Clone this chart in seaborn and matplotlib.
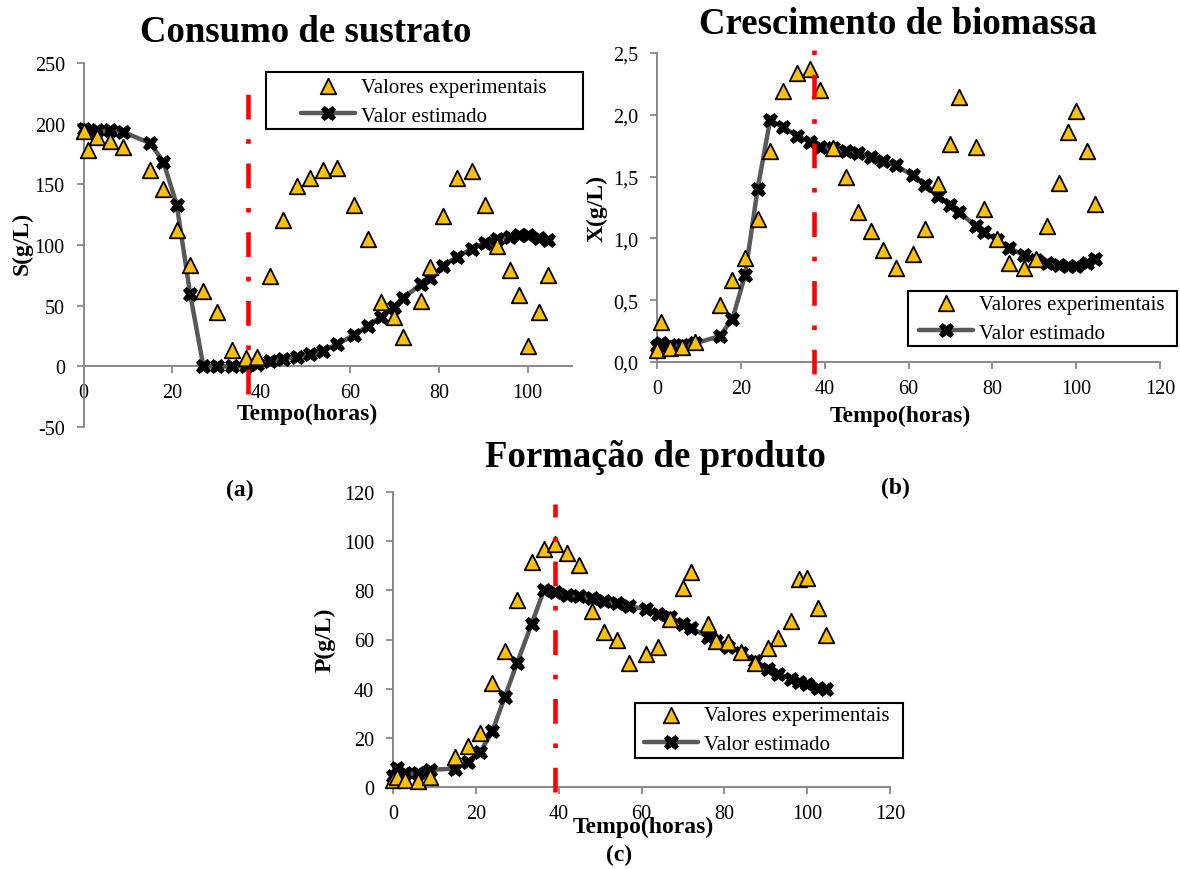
import matplotlib
matplotlib.use("Agg")
import matplotlib.pyplot as plt
import seaborn as sns
import pandas as pd
from matplotlib.patches import Rectangle
from matplotlib.ticker import FuncFormatter

# ---------------- data ----------------
time_h = [0, 1, 3, 6, 9, 15, 18, 21, 24, 27, 30, 33.5, 36.5, 39, 42, 45, 48, 51, 54, 57,
          61, 64, 67, 70, 72, 76, 78, 81, 84, 87.5, 90.5, 93, 96, 98, 100, 102.5, 104.5]

S_exp = [194, 178, 189, 186, 181, 162, 146.5, 112, 83.5, 62, 45, 13.7, 7, 8, 74.5, 120.5,
         149, 155, 162, 163.5, 133, 105, 53, 41, 24, 54, 82, 124, 155, 160.7, 133, 99.4,
         79.4, 59, 17, 45, 75]
S_model = [196, 193, 195, 195, 193, 184, 168.5, 133, 60, 0, 0, 0, 0, 2, 4, 6, 8, 10, 13, 18,
           26, 33, 41, 49, 56, 68, 73, 83, 90, 97, 102, 105, 107, 108, 108, 106, 104]

X_exp = [0.10, 0.32, 0.11, 0.12, 0.16, 0.46, 0.66, 0.845, 1.155, 1.71, 2.195, 2.34, 2.37,
         2.20, 1.735, 1.50, 1.21, 1.06, 0.91, 0.764, 0.872, 1.075, 1.44, 1.763, 2.14, 1.736,
         1.237, 0.994, 0.805, 0.764, 0.83, 1.10, 1.447, 1.857, 2.033, 1.709, 1.277]
X_model = [0.13, 0.15, 0.14, 0.14, 0.15, 0.21, 0.35, 0.70, 1.40, 1.96, 1.90, 1.83, 1.78,
           1.74, 1.73, 1.71, 1.69, 1.66, 1.63, 1.59, 1.51, 1.43, 1.345, 1.27, 1.215, 1.10,
           1.05, 0.99, 0.925, 0.864, 0.826, 0.805, 0.786, 0.778, 0.778, 0.805, 0.83]

P_exp = [3, 4, 2.7, 2.3, 4, 12.2, 16.6, 22, 42.4, 55.4, 76, 91.7, 96.9, 99, 95.2, 90.3,
         71.7, 62.9, 59.9, 50.3, 54, 57.1, 68.3, 80.8, 87.3, 66.3, 59.5, 58.8, 55, 50.6,
         56.7, 60.5, 67.6, 84.6, 84.9, 72.7, 62]
P_model = [4.6, 7.8, 5.7, 5.7, 7, 7.5, 10.2, 14.1, 22.7, 36.7, 50.6, 66.5, 80.3, 79.2,
           78.2, 77.6, 76.7, 75.5, 74.8, 73.5, 72.4, 70.3, 69, 66.3, 64.6, 61.2, 59.5, 57.1,
           54.7, 51.3, 48.2, 46.1, 44.1, 42.7, 41.8, 40.4, 40]

titles = ["Consumo de sustrato", "Crescimento de biomassa", "Formação de produto"]
ylabels = ["S(g/L)", "X(g/L)", "P(g/L)"]
panel_tags = ["(a)", "(b)", "(c)"]
xlabel_text = "Tempo(horas)"
legend_labels = ["Valores experimentais", "Valor estimado"]

cut_time = [37.0, 37.5, 39.0]
cut_low = [-23, -0.1, -2]
cut_high = [233, 2.64, 115]

x_ticks = [[0, 20, 40, 60, 80, 100], [0, 20, 40, 60, 80, 100, 120], [0, 20, 40, 60, 80, 100, 120]]
x_limits = [(0, 110), (0, 120), (0, 120)]
y_ticks = [[-50, 0, 50, 100, 150, 200, 250], [0, 0.5, 1.0, 1.5, 2.0, 2.5], [0, 20, 40, 60, 80, 100, 120]]
y_limits = [(-50, 250), (0, 2.5), (0, 120)]

# ---------------- style ----------------
sns.set_theme(style="white")
plt.rcParams['font.family'] = ['Liberation Serif', 'DejaVu Serif']
plt.rcParams['axes.unicode_minus'] = False
plt.rcParams['text.color'] = 'black'
plt.rcParams['axes.labelcolor'] = 'black'
plt.rcParams['xtick.color'] = 'black'
plt.rcParams['ytick.color'] = 'black'

W, H = 1180, 870
fig = plt.figure(figsize=(W / 100, H / 100), dpi=100)
fig.patch.set_facecolor("white")


def fx(px):
    return px / W


def fy(py):
    return 1 - py / H


def rect(l, r, t, b):
    return [fx(l), fy(b), (r - l) / W, (b - t) / H]


axes_px = [(83.5, 572, 64, 428), (657, 1160, 54, 363), (393, 890, 493, 788)]
title_pos = [(306, 32), (898, 24), (655, 458)]
ylabel_pos = [(22, 243), (597, 208), (325, 640)]
xlabel_pos = [(307, 414), (900, 416), (643, 827)]
tag_pos = [(240, 490), (895, 488), (619, 855)]
legend_box = [(266, 583, 73, 130), (908, 1177, 292, 347), (635, 903, 704, 759)]
legend_anchor = [(301, 102.5), (919, 319.5), (644, 731)]

series_exp = [S_exp, X_exp, P_exp]
series_model = [S_model, X_model, P_model]

spine_col = "#898989"

for i in range(3):
    ax = fig.add_axes(rect(*axes_px[i]))
    ax.set_facecolor("white")
    df = pd.DataFrame({"t": time_h, "exp": series_exp[i], "model": series_model[i]})

    sns.lineplot(data=df, x="t", y="model", ax=ax, color="#595959", lw=3.2,
                 marker="X", markersize=10.5, markerfacecolor="black",
                 markeredgecolor="black", markeredgewidth=0.6,
                 label=legend_labels[1], clip_on=False, zorder=3)
    sns.scatterplot(data=df, x="t", y="exp", ax=ax, marker="^", s=125,
                    color="#FFC000", edgecolor="black", linewidth=1.3,
                    label=legend_labels[0], clip_on=False, zorder=4)
    ax.vlines(cut_time[i], cut_low[i], cut_high[i], colors="#FF0000", lw=3.3,
              linestyles=[(0, (5.4, 4.3, 1.0, 4.3))], clip_on=False, zorder=5)

    ax.set_xlim(*x_limits[i])
    ax.set_ylim(*y_limits[i])
    ax.set_xticks(x_ticks[i])
    ax.set_yticks(y_ticks[i])
    if i == 1:
        ax.yaxis.set_major_formatter(FuncFormatter(lambda v, p: f"{v:.1f}".replace(".", ",")))

    for s in ["top", "right"]:
        ax.spines[s].set_visible(False)
    for s in ["left", "bottom"]:
        ax.spines[s].set_color(spine_col)
        ax.spines[s].set_linewidth(1.4)
    if i == 0:
        ax.spines["bottom"].set_position(("data", 0))

    ax.tick_params(axis="both", direction="out", length=5, width=1.3, color=spine_col,
                   labelcolor="black", labelsize=14.5)
    ax.tick_params(axis="x", pad=7)
    ax.tick_params(axis="y", pad=8.5)
    ax.tick_params(bottom=True, left=True)

    ax.set_xlabel(xlabel_text, fontsize=17, fontweight="bold", va="center", color="black")
    ax.xaxis.set_label_coords(fx(xlabel_pos[i][0]), fy(xlabel_pos[i][1]), transform=fig.transFigure)
    ax.set_ylabel(ylabels[i], fontsize=17, fontweight="bold", va="center", color="black")
    ax.yaxis.set_label_coords(fx(ylabel_pos[i][0]), fy(ylabel_pos[i][1]), transform=fig.transFigure)

    handles, labels = ax.get_legend_handles_labels()
    hmap = dict(zip(labels, handles))
    if ax.get_legend() is not None:
        ax.get_legend().remove()
    leg = ax.legend([hmap[legend_labels[0]], hmap[legend_labels[1]]], legend_labels,
                    loc="center left", bbox_to_anchor=(fx(legend_anchor[i][0]), fy(legend_anchor[i][1])),
                    bbox_transform=fig.transFigure, frameon=False, borderpad=0, borderaxespad=0,
                    handlelength=2.6, handletextpad=0.3, labelspacing=0.45, fontsize=15,
                    scatterpoints=1, numpoints=1)
    for txt in leg.get_texts():
        txt.set_color("black")

    l, r, t, b = legend_box[i]
    fig.add_artist(Rectangle((fx(l), fy(b)), (r - l) / W, (b - t) / H, transform=fig.transFigure,
                             fill=False, edgecolor="black", linewidth=1.5, zorder=10))

    fig.text(fx(title_pos[i][0]), fy(title_pos[i][1]), titles[i], fontsize=26.5,
             fontweight="bold", ha="center", va="center", color="black")
    fig.text(fx(tag_pos[i][0]), fy(tag_pos[i][1]), panel_tags[i], fontsize=17,
             fontweight="bold", ha="center", va="center", color="black")

fig.savefig("out.png", dpi=100, facecolor="white")
